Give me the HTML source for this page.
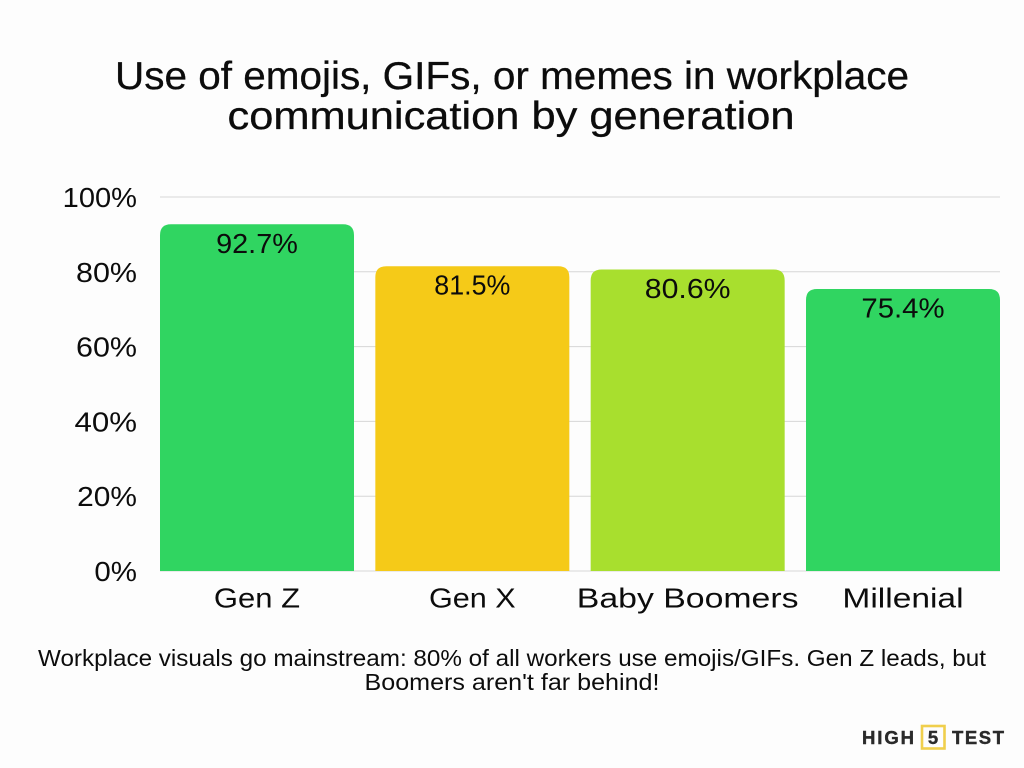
<!DOCTYPE html>
<html lang="en">
<head>
<meta charset="utf-8">
<title>Use of emojis, GIFs, or memes in workplace communication by generation</title>
<style>
html,body{margin:0;padding:0;background:#fdfdfd;}
svg{display:block;}
text{font-family:"Liberation Sans",sans-serif;fill:#0c0c0c;}
</style>
</head>
<body>
<svg id="chart" width="1024" height="768" viewBox="0 0 1024 768" xmlns="http://www.w3.org/2000/svg">
  <rect width="1024" height="768" fill="#fdfdfd"/>
  <text x="512" y="89" text-anchor="middle" font-size="39" stroke="#0c0c0c" stroke-width="0.3" textLength="794" lengthAdjust="spacingAndGlyphs">Use of emojis, GIFs, or memes in workplace</text>
  <text x="511" y="129" text-anchor="middle" font-size="39" stroke="#0c0c0c" stroke-width="0.3" textLength="567" lengthAdjust="spacingAndGlyphs">communication by generation</text>
  <g id="grid"></g>
  <g id="yaxis"></g>
  <g id="bars"></g>
  <g id="xaxis"></g>
  <text x="512" y="666" text-anchor="middle" font-size="23" textLength="948" lengthAdjust="spacingAndGlyphs">Workplace visuals go mainstream: 80% of all workers use emojis/GIFs. Gen Z leads, but</text>
  <text x="512" y="690" text-anchor="middle" font-size="23" textLength="295" lengthAdjust="spacingAndGlyphs">Boomers aren't far behind!</text>
  <g>
    <text x="862" y="744" font-size="18.5" font-weight="bold" stroke="#2a2a2a" stroke-width="0.4" style="fill:#2a2a2a" textLength="52" lengthAdjust="spacing">HIGH</text>
    <rect x="922" y="726" width="22.5" height="22.5" fill="none" stroke="#f0cf4c" stroke-width="2.6"/>
    <text x="933" y="744" text-anchor="middle" font-size="18.5" font-weight="bold" stroke="#2a2a2a" stroke-width="0.4" style="fill:#2a2a2a">5</text>
    <text x="952" y="744" font-size="18.5" font-weight="bold" stroke="#2a2a2a" stroke-width="0.4" style="fill:#2a2a2a" textLength="52" lengthAdjust="spacing">TEST</text>
  </g>
</svg>
<script>
const categories = ["Gen Z", "Gen X", "Baby Boomers", "Millenial"];
const values = [92.7, 81.5, 80.6, 75.4];
const valueLabels = ["92.7%", "81.5%", "80.6%", "75.4%"];
const barColors = ["#30d561", "#f5ca18", "#a8df2e", "#30d561"];
const yTicks = [0, 20, 40, 60, 80, 100];
const yTickLabels = ["0%", "20%", "40%", "60%", "80%", "100%"];

const plotLeft = 160, plotRight = 1000, plotTop = 197, plotBottom = 571;
const NS = "http://www.w3.org/2000/svg";
const barWidth = 194;
const yScale = function (v) { return plotBottom - (v / 100) * (plotBottom - plotTop); };
const xCenter = function (i) { return plotLeft + barWidth / 2 + i * ((plotRight - plotLeft - barWidth) / (categories.length - 1)); };

/* Approximate glyph advances (em) of the geometric face in the reference,
   used to stretch the local font so each label takes the same width. */
const advances = {"0":.68,"1":.39,"2":.58,"3":.58,"4":.67,"5":.58,"6":.62,"7":.58,"8":.62,"9":.62,".":.22,"%":.76,
  " ":.26,"G":.75,"e":.6,"n":.66,"Z":.64,"X":.66,"B":.76,"a":.6,"b":.68,"y":.58,"o":.68,"m":1.0,"r":.4,"s":.49,
  "M":.93,"i":.26,"l":.26};
const emSize = 29.6;
function fitWidth(el) {
  let w = 0;
  for (const ch of el.textContent) { w += (advances[ch] !== undefined ? advances[ch] : 0.6); }
  el.setAttribute("textLength", (w * emSize).toFixed(1));
  el.setAttribute("lengthAdjust", "spacingAndGlyphs");
}

const grid = document.getElementById("grid");
const yaxis = document.getElementById("yaxis");
const bars = document.getElementById("bars");
const xaxis = document.getElementById("xaxis");

yTicks.forEach(function (t, i) {
  const line = document.createElementNS(NS, "line");
  
  
  line.setAttribute("x1", plotLeft);
  line.setAttribute("x2", plotRight);
  line.setAttribute("y1", yScale(t));
  line.setAttribute("y2", yScale(t));
  line.setAttribute("stroke", "#d6d6d6");
  line.setAttribute("stroke-width", "1");
  grid.appendChild(line);

  const label = document.createElementNS(NS, "text");
  
  
  label.setAttribute("x", 137);
  label.setAttribute("y", yScale(t) + 10);
  label.setAttribute("text-anchor", "end");
  label.setAttribute("font-size", "28");
  label.textContent = yTickLabels[i];
  yaxis.appendChild(label);
  fitWidth(label);
});

categories.forEach(function (c, i) {
  const cx = xCenter(i);
  const top = yScale(values[i]);
  const left = cx - barWidth / 2;
  const r = 11;
  const bar = document.createElementNS(NS, "path");
  
  
  bar.setAttribute("d", "M" + left + " " + plotBottom + "V" + (top + r) + "Q" + left + " " + top + " " + (left + r) + " " + top +
    "H" + (left + barWidth - r) + "Q" + (left + barWidth) + " " + top + " " + (left + barWidth) + " " + (top + r) + "V" + plotBottom + "Z");
  bar.setAttribute("fill", barColors[i]);
  bars.appendChild(bar);

  const val = document.createElementNS(NS, "text");
  
  
  val.setAttribute("x", cx);
  val.setAttribute("y", top + 28.5);
  val.setAttribute("text-anchor", "middle");
  val.setAttribute("font-size", "28");
  val.textContent = valueLabels[i];
  bars.appendChild(val);
  fitWidth(val);

  const cat = document.createElementNS(NS, "text");
  
  
  cat.setAttribute("x", cx);
  cat.setAttribute("y", 607.5);
  cat.setAttribute("text-anchor", "middle");
  cat.setAttribute("font-size", "28");
  cat.textContent = c;
  xaxis.appendChild(cat);
  fitWidth(cat);
});
</script>
</body>
</html>
